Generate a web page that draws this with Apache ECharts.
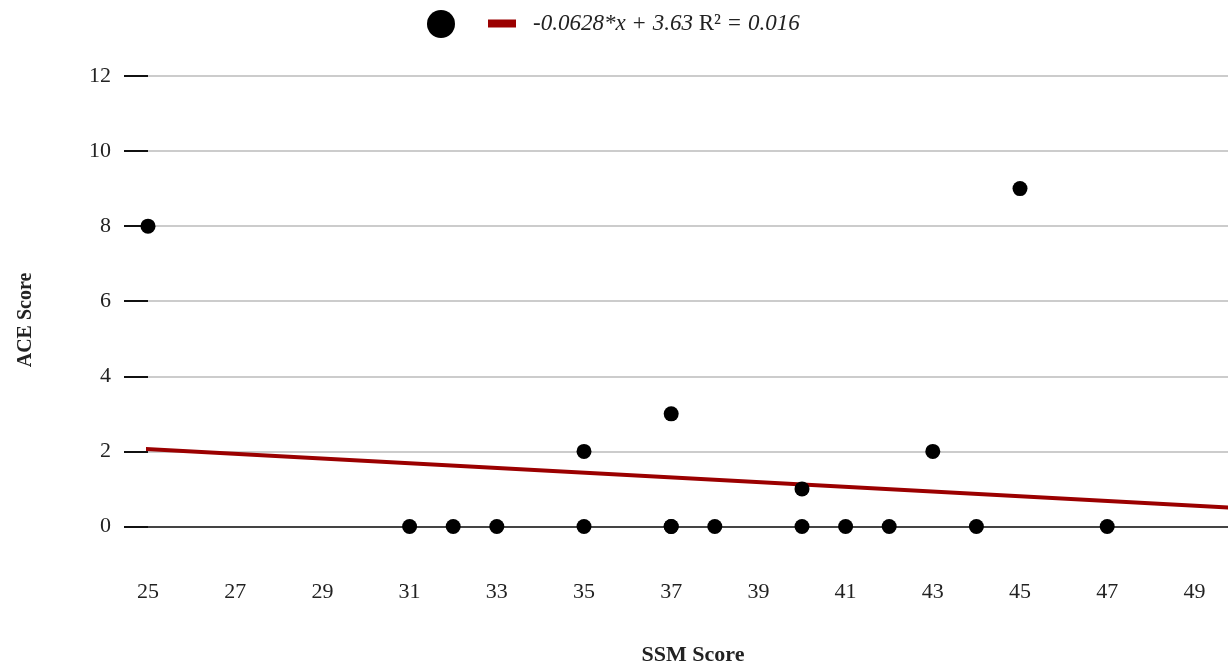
<!DOCTYPE html>
<html>
<head>
<meta charset="utf-8">
<script src="https://cdn.jsdelivr.net/npm/echarts@6/dist/echarts.min.js"></script>
<style>
  html, body { margin: 0; padding: 0; background: #fff; }
  #chart { width: 1228px; height: 668px; }
</style>
</head>
<body>
<div id="chart"></div>
<script>
// SSM score vs ACE score, one point per respondent
const ssmScores = [25, 31, 32, 33, 35, 35, 37, 37, 37, 38, 40, 40, 41, 42, 43, 44, 45, 47];
const aceScores = [8, 0, 0, 0, 0, 2, 0, 0, 3, 0, 0, 1, 0, 0, 2, 0, 9, 0];

// Linear fit stated in the legend
const trendSlope = -0.0628;
const trendIntercept = 3.63;
const trendR2 = 0.016;
const trendXRange = [24.77, 50];

// Axis tick labels
const xTickLabels = [25, 27, 29, 31, 33, 35, 37, 39, 41, 43, 45, 47, 49];
const yTickLabels = [0, 2, 4, 6, 8, 10, 12];

const FONT = '"Liberation Serif", "DejaVu Serif", serif';
const points = ssmScores.map((x, i) => [x, aceScores[i]]);
const trendPoints = trendXRange.map(x => [x, trendSlope * x + trendIntercept]);
const trendName = 'trend';

// gridline colours: dark baseline at 0, light grey above
const gridColors = ['#444444'].concat(yTickLabels.slice(1).map(() => '#cccccc'));

const chart = echarts.init(document.getElementById('chart'));
chart.setOption({
  animation: false,
  backgroundColor: '#ffffff',
  textStyle: { fontFamily: FONT },
  grid: { left: 148, top: 76, width: 1090, height: 488, outerBoundsMode: 'none', containLabel: false },
  legend: [
    {
      data: [{ name: 'points', icon: 'circle' }],
      left: 427, top: 10, padding: 0,
      itemWidth: 28, itemHeight: 28,
      formatter: () => '',
      selectedMode: false
    },
    {
      data: [{ name: trendName, icon: 'rect' }],
      left: 488, top: 12, padding: 0,
      itemWidth: 28, itemHeight: 8,
      selectedMode: false,
      formatter: () => '{i|' + trendSlope + '*x + ' + trendIntercept + ' }{n|R²}{i| = ' + trendR2 + '}',
      textStyle: {
        fontFamily: FONT,
        rich: {
          i: { fontFamily: FONT, fontStyle: 'italic', fontSize: 23, color: '#222' },
          n: { fontFamily: FONT, fontSize: 23, color: '#222' }
        },
        padding: [0, 0, 0, 12]
      }
    }
  ],
  xAxis: {
    type: 'value',
    min: 25, max: 50,
    name: 'SSM Score',
    nameLocation: 'middle',
    nameGap: 80,
    nameTextStyle: { fontFamily: FONT, fontWeight: 'bold', fontSize: 22, color: '#222' },
    axisLine: { show: false },
    axisTick: { show: false },
    splitLine: { show: false },
    axisLabel: {
      customValues: xTickLabels,
      margin: 17,
      fontFamily: FONT, fontSize: 22, color: '#222'
    }
  },
  yAxis: {
    type: 'value',
    min: -1, max: 12, interval: 2,
    name: 'ACE Score',
    nameLocation: 'middle',
    nameGap: 112,
    nameTextStyle: { fontFamily: FONT, fontWeight: 'bold', fontSize: 20, color: '#222' },
    axisLine: { show: false },
    axisTick: {
      show: true, length: 24, customValues: yTickLabels,
      lineStyle: { color: '#111', width: 2 }
    },
    axisLabel: {
      customValues: yTickLabels,
      margin: 37,
      fontFamily: FONT, fontSize: 22, color: '#222'
    },
    splitLine: { show: true, lineStyle: { color: gridColors, width: 2 } }
  },
  series: [
    {
      name: trendName,
      type: 'line',
      data: trendPoints,
      showSymbol: false,
      clip: false,
      color: '#9b0000',
      lineStyle: { color: '#9b0000', width: 4 },
      z: 2
    },
    {
      name: 'points',
      type: 'scatter',
      data: points,
      symbol: 'circle',
      symbolSize: 15,
      color: '#000000',
      itemStyle: { color: '#000000', opacity: 1 },
      z: 3
    }
  ]
});
</script>
</body>
</html>
